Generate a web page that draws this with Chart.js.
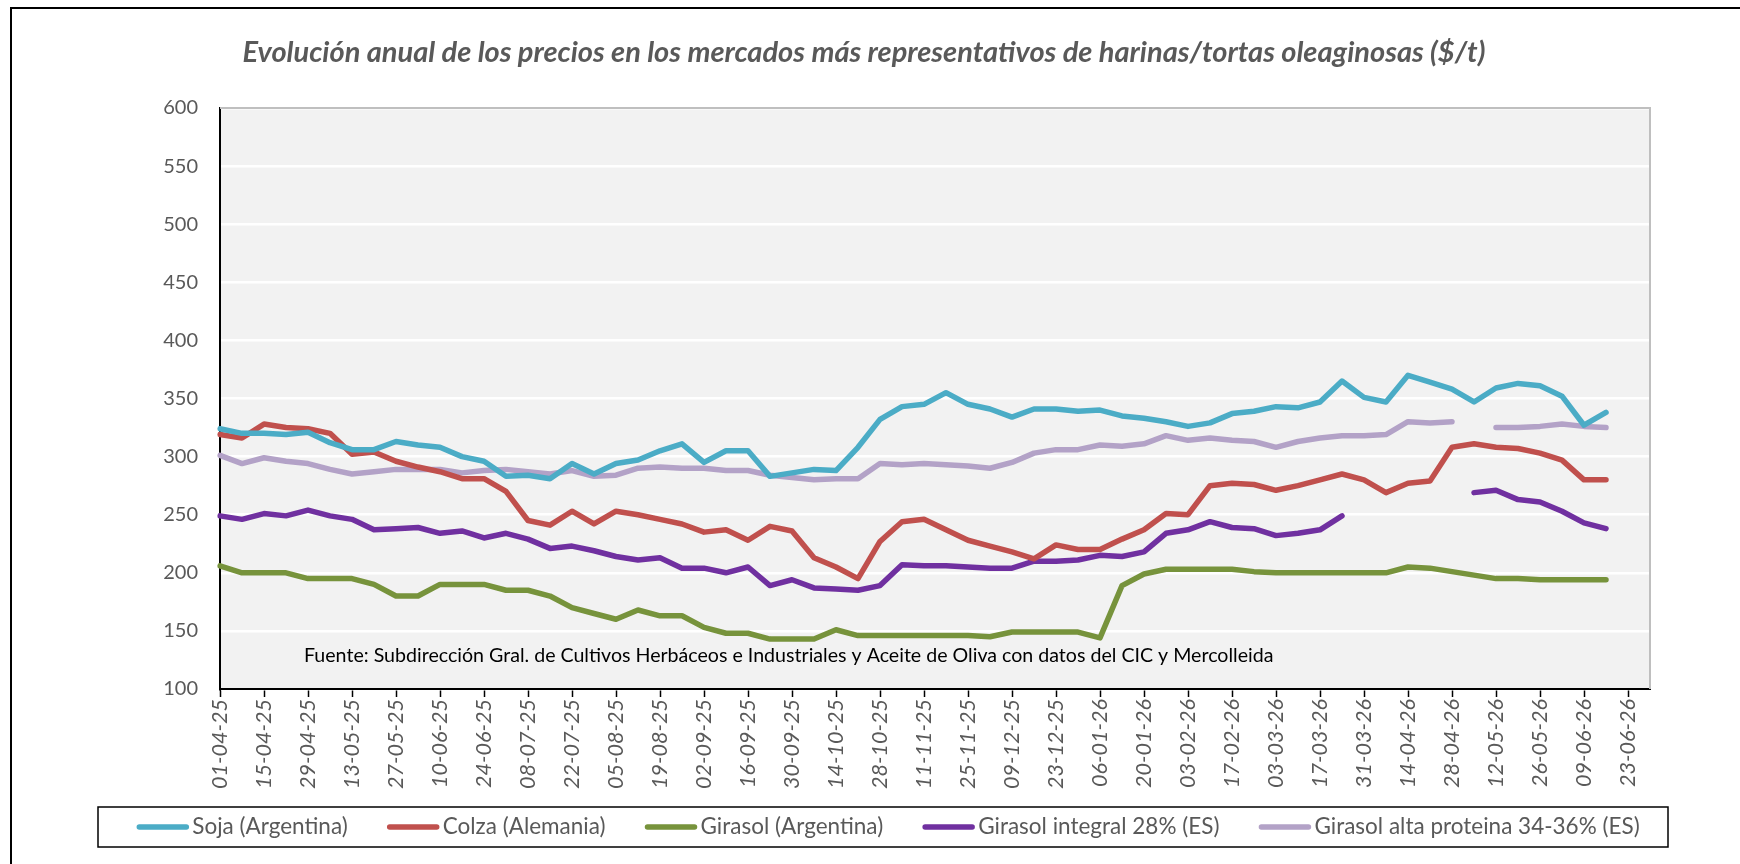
<!DOCTYPE html>
<html>
<head>
<meta charset="utf-8">
<title>Harinas oleaginosas</title>
<script src="https://cdn.jsdelivr.net/npm/chart.js@4.4.0/dist/chart.umd.min.js"></script>
<style>
  body { margin: 0; background: #fff; }
  #wrap { width: 1740px; height: 864px; }
</style>
</head>
<body>
<div id="wrap"><canvas id="chart1" width="1740" height="864"></canvas></div>
<script>
// weekly dates (only every other one gets a label)
const weeks = [
  '01-04-25','08-04-25','15-04-25','22-04-25','29-04-25','06-05-25','13-05-25','20-05-25',
  '27-05-25','03-06-25','10-06-25','17-06-25','24-06-25','01-07-25','08-07-25','15-07-25',
  '22-07-25','29-07-25','05-08-25','12-08-25','19-08-25','26-08-25','02-09-25','09-09-25',
  '16-09-25','23-09-25','30-09-25','07-10-25','14-10-25','21-10-25','28-10-25','04-11-25',
  '11-11-25','18-11-25','25-11-25','02-12-25','09-12-25','16-12-25','23-12-25','30-12-25',
  '06-01-26','13-01-26','20-01-26','27-01-26','03-02-26','10-02-26','17-02-26','24-02-26',
  '03-03-26','10-03-26','17-03-26','24-03-26','31-03-26','07-04-26','14-04-26','21-04-26',
  '28-04-26','05-05-26','12-05-26','19-05-26','26-05-26','02-06-26','09-06-26','16-06-26',
  '23-06-26','30-06-26'
];

const soja = [324,320,320,319,321,312,306,306,313,310,308,300,296,283,284,281,
  294,285,294,297,305,311,295,305,305,283,286,289,288,308,332,343,
  345,355,345,341,334,341,341,339,340,335,333,330,326,329,337,339,
  343,342,347,365,351,347,370,364,358,347,359,363,361,352,327,338];

const colza = [319,316,328,325,324,320,302,304,296,291,287,281,281,270,245,241,
  253,242,253,250,246,242,235,237,228,240,236,213,205,195,227,244,
  246,237,228,223,218,212,224,220,220,229,237,251,250,275,277,276,
  271,275,280,285,280,269,277,279,308,311,308,307,303,297,280,280];

const girasolArg = [206,200,200,200,195,195,195,190,180,180,190,190,190,185,185,180,
  170,165,160,168,163,163,153,148,148,143,143,143,151,146,146,146,
  146,146,146,145,149,149,149,149,144,189,199,203,203,203,203,201,
  200,200,200,200,200,200,205,204,201,198,195,195,194,194,194,194];

const girasolIntegral = [249,246,251,249,254,249,246,237,238,239,234,236,230,234,229,221,
  223,219,214,211,213,204,204,200,205,189,194,187,186,185,189,207,
  206,206,205,204,204,210,210,211,215,214,218,234,237,244,239,238,
  232,234,237,249,null,null,null,null,null,269,271,263,261,253,243,238];

const girasolAlta = [301,294,299,296,294,289,285,287,289,289,289,286,288,289,287,285,
  288,283,284,290,291,290,290,288,288,284,282,280,281,281,294,293,
  294,293,292,290,295,303,306,306,310,309,311,318,314,316,314,313,
  308,313,316,318,318,319,330,329,330,null,325,325,326,328,326,325];

const seriesNames = ['Soja (Argentina)', 'Colza (Alemania)', 'Girasol (Argentina)',
  'Girasol integral 28% (ES)', 'Girasol alta proteina 34-36% (ES)'];
const seriesColors = ['#4bacc6', '#c0504d', '#77933c', '#7030a0', '#b3a2c7'];

const titleText = 'Evolución anual de los precios en los mercados más representativos de harinas/tortas oleaginosas ($/t)';
const sourceText = 'Fuente: Subdirección Gral. de Cultivos Herbáceos e Industriales y Aceite de Oliva con datos del CIC y Mercolleida';

const yTicks = [100, 150, 200, 250, 300, 350, 400, 450, 500, 550, 600];

function makeSet(i, values) {
  return {
    label: seriesNames[i],
    data: values,
    borderColor: seriesColors[i],
    backgroundColor: seriesColors[i],
    borderWidth: 5.5,
    borderCapStyle: 'round',
    borderJoinStyle: 'round',
    pointRadius: 0,
    pointHoverRadius: 0,
    tension: 0,
    spanGaps: false,
    yAxisID: 'y'
  };
}

// background, frame, source note, legend in its box
const decor = {
  id: 'decor',
  beforeDraw(chart) {
    const c = chart.ctx, a = chart.chartArea;
    c.save();
    c.fillStyle = '#ffffff';
    c.fillRect(0, 0, chart.width, chart.height);
    c.fillStyle = '#f2f2f2';
    c.fillRect(a.left, a.top, a.right - a.left, a.bottom - a.top);
    c.restore();
  },
  afterLayout(chart) {
    // keep title centred on the frame rather than on the padded box
    if (chart.titleBlock) {
      chart.titleBlock.left = 0;
      chart.titleBlock.right = 1728;
    }
  },
  beforeDatasetsDraw(chart) {
    const c = chart.ctx, a = chart.chartArea;
    c.save();
    c.strokeStyle = '#bfbfbf';
    c.lineWidth = 2;
    c.beginPath();
    c.moveTo(a.left, a.top);
    c.lineTo(a.right, a.top);
    c.lineTo(a.right, a.bottom);
    c.stroke();
    c.font = '19.6px Lato';
    c.fillStyle = '#000000';
    c.textBaseline = 'middle';
    c.fillText(sourceText, a.left + 84, a.bottom - 33);
    c.restore();
  },
  afterDraw(chart) {
    const c = chart.ctx;
    c.save();
    c.strokeStyle = '#000000';
    c.lineWidth = 2;
    c.strokeRect(11, 8, 1760, 900);
    c.lineWidth = 1.5;
    c.strokeRect(98, 807, 1570, 40);

    // legend: line sample + label for each dataset
    const sets = chart.data.datasets;
    const lineLen = 50, gap = 6, itemGap = 39;
    c.font = '22.5px Lato';
    c.textBaseline = 'middle';
    const widths = sets.map(d => lineLen + gap + c.measureText(d.label).width);
    let total = widths.reduce((s, w) => s + w, 0) + itemGap * (sets.length - 1);
    let x = 888 - total / 2;
    const y = 827;
    sets.forEach((d, i) => {
      c.strokeStyle = d.borderColor;
      c.lineWidth = 5.5;
      c.lineCap = 'round';
      c.beginPath();
      c.moveTo(x + 3, y);
      c.lineTo(x + lineLen, y);
      c.stroke();
      c.fillStyle = '#595959';
      c.fillText(d.label, x + lineLen + gap, y);
      x += widths[i] + itemGap;
    });
    c.restore();
  }
};

const ctx1 = document.getElementById('chart1').getContext('2d');
const chart1 = new Chart(ctx1, {
  type: 'line',
  data: {
    labels: weeks,
    datasets: [
      makeSet(0, soja),
      makeSet(1, colza),
      makeSet(2, girasolArg),
      makeSet(3, girasolIntegral),
      makeSet(4, girasolAlta)
    ]
  },
  options: {
    responsive: false,
    animation: false,
    devicePixelRatio: 1,
    layout: { padding: { left: 36, right: 0, top: 0, bottom: 0 } },
    plugins: {
      title: {
        display: true,
        text: titleText,
        color: '#595959',
        font: { family: 'Lato', size: 29, style: 'italic', weight: 'bold', lineHeight: 1.2 },
        padding: { top: 35.6, bottom: 37.6 }
      },
      legend: { display: false },
      tooltip: { enabled: false }
    },
    scales: {
      x: {
        type: 'category',
        offset: false,
        afterFit: function(s) { s.height = 175; },
        border: { display: true, color: '#000000', width: 2 },
        grid: {
          drawOnChartArea: false,
          drawTicks: true,
          tickLength: 8,
          tickWidth: 1.5,
          tickColor: function(c) { return (c.index % 2 === 0 && c.index < 65) ? '#000000' : 'rgba(0,0,0,0)'; }
        },
        ticks: {
          autoSkip: false,
          maxRotation: 90,
          minRotation: 90,
          padding: 2,
          color: '#595959',
          font: { family: 'Lato', size: 21.5, style: 'italic' },
          callback: function(v, i) { return (i % 2 === 0 && i < 65) ? weeks[i] : ''; }
        }
      },
      y: {
        position: 'left',
        min: yTicks[0],
        max: yTicks[yTicks.length - 1],
        afterFit: function(s) { s.width = 184; },
        afterBuildTicks: function(s) { s.ticks = yTicks.map(v => ({ value: v })); },
        border: { display: true, color: '#000000', width: 2 },
        grid: { color: '#ffffff', lineWidth: 2.5, drawTicks: false },
        ticks: {
          padding: 22,
          color: '#595959',
          font: { family: 'Lato', size: 20 }
        }
      },
      // empty axis on the right, only holds the space after the plot
      yR: {
        position: 'right',
        display: true,
        afterFit: function(s) { s.width = 90; },
        border: { display: false },
        grid: { display: false },
        ticks: { display: false }
      }
    }
  },
  plugins: [decor]
});
</script>
</body>
</html>
